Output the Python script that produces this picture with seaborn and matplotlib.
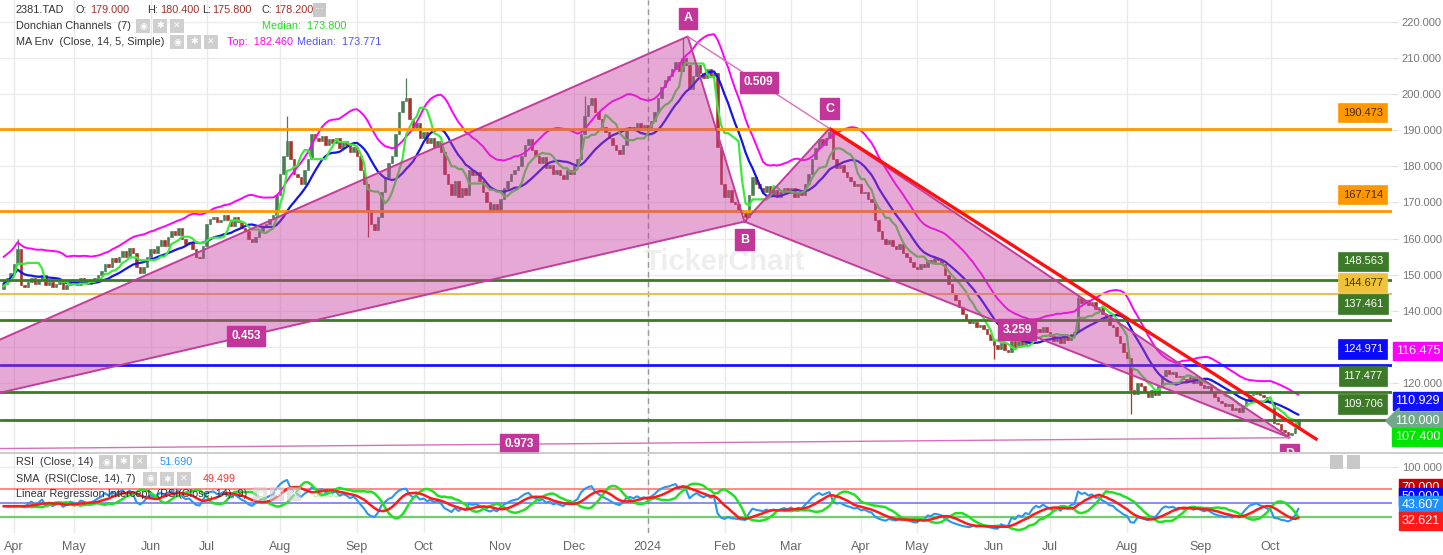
"""
Recreation of a TickerChart screen: 2381.TAD candles with harmonic pattern,
support / resistance levels, MA envelope, Donchian median and an RSI pane.
"""

import numpy as np
import pandas as pd
import matplotlib.pyplot as plt
from matplotlib.patches import Rectangle
from matplotlib.lines import Line2D
import seaborn as sns

# ---------------------------------------------------------------- data
# daily closes, read off the candles (one value per trading session)
close_2023 = [
    147.5, 149, 150.5, 153, 157, 147,
    146.5, 148, 149, 147.5, 148.5, 150, 147, 148, 146.5, 147.5, 148, 146, 147, 148.5,
    148, 147, 149, 148.5, 147.5, 148, 149, 150,
    151, 153, 152, 154.5, 153.5, 155, 156.5, 155, 157.5, 156, 152, 150.5,
    152, 155, 157, 156, 158, 159.5, 158, 160.5, 162, 161, 163,
    160, 158.5, 159, 157, 155, 154.5, 158,
    164, 165.5, 166, 164.5, 165, 166.5, 165, 163.5, 166, 164.5, 163, 162,
    160, 159, 160.5, 162, 163.5, 164, 165.5, 166.5,
    172, 178, 183, 187, 182, 178, 177, 175, 179, 182,
    189, 188, 187, 188.5, 186,
    187.5, 186.5, 188, 185, 187, 186, 184, 185.5, 183,
    179, 175, 168, 164, 162.5, 166, 173, 177, 181,
    183, 189, 195, 198, 199, 193, 190, 192,
    188, 189.5, 186.5, 188, 185.5, 187, 184,
    178, 175, 172, 176, 171.5, 174, 172,
    179, 177.5, 178.5, 176,
    173, 170, 168, 169.5, 167.5, 171,
    174, 176, 178, 179, 180,
    183, 186, 187.5, 184.5, 183,
    181, 182.5, 179.5, 180.5, 178, 179, 177.5,
    176.5, 179, 178, 180, 182,
    189, 194, 197, 199,
    195, 193, 191, 189.5, 188, 186,
    184.5, 183.5, 186, 190,
    191, 190, 192, 190.5, 191.5,
]
close_2024 = [
    190, 192.5,
    195, 199, 202, 204,
    205, 207, 209, 206.5, 210, 208,
    201.5, 205, 208, 206, 204.5, 207, 205, 206,
    185.5, 175, 171.5, 173.5, 170,
    169.5, 168, 167, 166,
    172, 177, 175, 174,
    173, 174.5, 172, 173.5, 171.5, 173, 174,
    172.5, 174, 171.5, 173, 172, 175,
    178, 182, 185, 187.5, 186, 188, 189.5,
    182, 179.5, 180.5, 178.5, 177,
    176, 174.5, 175, 172.5, 173, 171, 170,
    165, 162, 160, 158.5,
    159.5, 158, 157, 158.5, 156, 155,
    153.5, 152, 151.5, 153, 152,
    154, 153.5, 154.5, 154, 153,
    150, 147.5, 145, 143, 141,
    139, 137.5, 136.5, 137, 135.5, 136, 135,
    133.5, 132, 130.5, 129.5,
    131, 129, 128.5, 131.5, 130,
    131.5, 130.5, 132, 131, 133.5,
    135, 134, 135.5, 134,
    133, 131.5, 132.5, 131, 133, 132,
    133.5, 134, 143.5,
    142, 143, 141.5, 142.5, 140.5, 141,
    139, 138, 136, 135.5, 133,
    131, 128.5, 127,
    118, 117, 120,
    119, 117.5, 116, 118, 116.5, 119,
    122, 123.5, 122.5, 123, 121.5,
    122, 121, 120.5, 121.5, 120, 121,
    119.5, 118.5, 119, 117.5,
    116, 115, 114.5, 113.5, 114, 112.5, 113, 112,
    113.5, 115, 116.5, 117,
    117.5, 116.5, 116, 115, 114.5,
    109, 108.5, 107, 106.5, 105.5, 106, 107.4, 110,
]
first_open = 146.0
# long wicks that stick out of the bodies (session index -> price)
wick_high = {4: 160, 81: 194, 115: 204.5, 166: 199.5, 194: 215.5, 236: 190.5, 307: 145}
wick_low = {104: 160.5, 212: 164.7, 283: 126.5, 322: 111.5, 367: 104.8}

month_pos = [3, 20, 42, 58, 79, 101, 120, 142, 163, 184, 206, 225, 245, 261,
             283, 299, 321, 342, 362]
month_lbl = ["Apr", "May", "Jun", "Jul", "Aug", "Sep", "Oct", "Nov", "Dec",
             "2024", "Feb", "Mar", "Apr", "May", "Jun", "Jul", "Aug", "Sep", "Oct"]
year_start = 184

price_ticks = [110, 120, 130, 140, 150, 160, 170, 180, 190, 200, 210, 220]
hidden_ticks = [110, 130]   # covered by the value markers in the original

levels = [190.473, 167.714, 148.563, 144.677, 137.461, 124.971, 117.477, 109.706]
level_kind = ["orange", "orange", "green", "amber", "green", "blue", "green", "green"]

# harmonic XABCD points (session index, price)
pat_names = ["X", "A", "B", "C", "D"]
pat_idx = [-73, 195.5, 211.7, 236, 367.5]
pat_price = [101.2, 216.0, 164.7, 190.5, 104.8]
ratio_pairs = [("X", "B"), ("A", "C"), ("B", "D"), ("X", "D")]
ratio_text = ["0.453", "0.509", "3.259", "0.973"]

trend_idx = [236, 375.4]
trend_price = [190.5, 104.2]

# ---------------------------------------------------------------- prep
closes = pd.Series(close_2023 + close_2024, dtype=float)
idx = np.arange(len(closes))
opens = closes.shift(1).fillna(first_open)
highs = np.maximum(opens, closes)
lows = np.minimum(opens, closes)
for k, v in wick_high.items():
    highs[k] = v
for k, v in wick_low.items():
    lows[k] = v

sma14 = closes.rolling(14, min_periods=1).mean()
env_top = sma14 * 1.05
don_mid = (highs.rolling(7, min_periods=1).max() + lows.rolling(7, min_periods=1).min()) / 2

delta = closes.diff().fillna(0)
gain = delta.clip(lower=0).ewm(alpha=1 / 14, adjust=False).mean()
loss = (-delta.clip(upper=0)).ewm(alpha=1 / 14, adjust=False).mean()
rsi = (100 - 100 / (1 + gain / loss.replace(0, np.nan))).bfill()
rsi_sma = rsi.rolling(7, min_periods=1).mean()
rsi_lri = rsi.rolling(9, min_periods=2).apply(
    lambda w: np.polyfit(np.arange(len(w)), w, 1)[1], raw=True)

# ---------------------------------------------------------------- figure
sns.set_style("white")
plt.rcParams['font.family'] = ['Liberation Sans', 'DejaVu Sans']

W, H = 1443, 555
fig = plt.figure(figsize=(W / 100, H / 100), dpi=100)


def fx(x):
    return x / W


def fy(y):
    return 1 - y / H


ax = fig.add_axes([0, fy(452), fx(1392), fy(0) - fy(452)])
ax_r = fig.add_axes([0, fy(533), fx(1392), fy(454) - fy(533)], sharex=ax)

x_lo, x_hi = -1, 1392 / 3.5 - 1
ax.set_xlim(x_lo, x_hi)
ax.set_ylim(110 - 33 / 3.6, 220 + 22 / 3.6)
ax_r.set_ylim(7, 119)

for a in (ax, ax_r):
    for s in a.spines.values():
        s.set_visible(False)
    a.set_xticks(month_pos)
    a.grid(True, axis="x", color="#e9e9e9", linewidth=1)
    a.axvline(year_start, color="#999999", linestyle=(0, (4, 3)), linewidth=1, zorder=1)

ax.tick_params(axis="x", length=0, labelbottom=False)
ax.set_yticks(price_ticks)
ax.set_yticklabels(["" if p in hidden_ticks else f"{p:.3f}" for p in price_ticks])
ax.yaxis.tick_right()
ax.tick_params(axis="y", length=4, color="#dddddd", labelsize=8,
               labelcolor="#777777", pad=3)
ax.grid(True, axis="y", color="#ececec", linewidth=1)

# watermark
ax.text(0.52, 0.42, "TickerChart", transform=ax.transAxes, fontsize=21,
        fontweight="bold", color="#eeeeee", ha="center", va="center", zorder=0.5)

# candles
up = closes >= opens
col = np.where(up, "#4a7d55", "#a8352c")
ax.vlines(idx, lows, highs, colors=col, linewidth=0.9, zorder=2)
body_h = np.maximum((closes - opens).abs(), 0.35)
ax.bar(idx, body_h, bottom=np.minimum(opens, closes), width=0.72,
       color=col, edgecolor=col, linewidth=0.4, zorder=2.5)

# indicator lines
sns.lineplot(x=idx, y=env_top.values, ax=ax, color="#ff00ff", linewidth=1.4,
             legend=False, zorder=3)
sns.lineplot(x=idx, y=sma14.values, ax=ax, color="#1515e6", linewidth=1.6,
             legend=False, zorder=3)
sns.lineplot(x=idx, y=don_mid.values, ax=ax, color="#3ee83e", linewidth=1.6,
             legend=False, zorder=3)

# horizontal levels
level_style = {
    "orange": dict(line="#ff9800", lw=2.0, box="#ff9800", txt="#4a2a00"),
    "green": dict(line="#3c7a28", lw=2.0, box="#3c7a28", txt="white"),
    "amber": dict(line="#f4bd45", lw=1.5, box="#efc23a", txt="#3a3000"),
    "blue": dict(line="#1414ff", lw=2.0, box="#0a0aff", txt="white"),
}
label_lift = {148.563: 5.1, 144.677: 3.1}
for lv, kind in zip(levels, level_kind):
    st = level_style[kind]
    ax.axhline(lv, color=st["line"], linewidth=st["lw"], zorder=3.5)
    ax.text(0.979, lv + label_lift.get(lv, 4.4), f"{lv:.3f}",
            transform=ax.get_yaxis_transform(), ha="center", va="center",
            fontsize=8, color=st["txt"], zorder=8,
            bbox=dict(boxstyle="square,pad=0.42", fc=st["box"], ec=st["box"], lw=0.5))

# harmonic pattern
pts = dict(zip(pat_names, zip(pat_idx, pat_price)))
pink_fill = "#c83ca0"
pink_edge = "#c43c9c"
for tri in (("X", "A", "B"), ("B", "C", "D")):
    xs = [pts[n][0] for n in tri]
    ys = [pts[n][1] for n in tri]
    ax.fill(xs, ys, color=pink_fill, alpha=0.44, lw=0, zorder=5)
    ax.plot(xs + xs[:1], ys + ys[:1], color=pink_edge, lw=1.4, zorder=5.5)
for a_, b_ in (("A", "C"), ("X", "D")):
    ax.plot([pts[a_][0], pts[b_][0]], [pts[a_][1], pts[b_][1]],
            color="#d870b8", lw=1.0, zorder=5.5)

box_kw = dict(boxstyle="square,pad=0.35", fc="#c2369a", ec="#c2369a")
for (a_, b_), t in zip(ratio_pairs, ratio_text):
    mx = (pts[a_][0] + pts[b_][0]) / 2
    my = (pts[a_][1] + pts[b_][1]) / 2
    ax.text(mx, my, t, ha="center", va="center", fontsize=8.5, color="white",
            fontweight="bold", zorder=7, bbox=box_kw)
letter_lift = {"A": 5.0, "B": -5.0, "C": 5.5, "D": -4.6}
for n in ("A", "B", "C", "D"):
    ax.text(pts[n][0], pts[n][1] + letter_lift[n], n, ha="center", va="center",
            fontsize=9, color="white", fontweight="bold", zorder=7,
            bbox=dict(boxstyle="square,pad=0.38", fc="#c2369a", ec="#c2369a"),
            clip_on=True)

# red trend line
ax.plot(trend_idx, trend_price, color="#ff1010", lw=2.4, zorder=6,
        solid_capstyle="butt")

# ---------------------------------------------------------------- RSI pane
ax_r.set_yticks([100])
ax_r.set_yticklabels(["100.000"])
ax_r.yaxis.tick_right()
ax_r.tick_params(axis="y", length=4, color="#dddddd", labelsize=8,
                 labelcolor="#777777", pad=3)
ax_r.grid(True, axis="y", color="#ececec", linewidth=1)
ax_r.set_xticklabels(month_lbl)
ax_r.tick_params(axis="x", length=0, labelsize=9, labelcolor="#666666", pad=6)

ax_r.axhline(70, color="#ff6a6a", lw=1.1, zorder=2)
ax_r.axhline(50, color="#6a6aff", lw=1.1, zorder=2)
ax_r.axhline(30, color="#6fcf6f", lw=1.6, zorder=2)
sns.lineplot(x=idx, y=rsi.values, ax=ax_r, color="#2b95f0", lw=1.5, legend=False, zorder=3)
sns.lineplot(x=idx, y=rsi_sma.values, ax=ax_r, color="#ff1a1a", lw=1.8, legend=False, zorder=3.2)
sns.lineplot(x=idx, y=rsi_lri.values, ax=ax_r, color="#22e022", lw=1.8, legend=False, zorder=3.1)
for a in (ax, ax_r):
    a.set_xlabel("")
    a.set_ylabel("")

fig.add_artist(Line2D([0, 1], [fy(453), fy(453)], color="#c4c4c4", lw=1.2))

# ---------------------------------------------------------------- header texts
HFS = 7.8


def ftext(x, y, s, color="#333333", **kw):
    fig.text(fx(x), fy(y), s, color=color, fontsize=HFS, va="center", ha="left", **kw)


def icons(x0, y, faded=False):
    for k, g in enumerate(["◉", "✱", "✕"]):
        fig.add_artist(Rectangle((fx(x0 + 17 * k), fy(y + 7)), fx(14), fy(0) - fy(14),
                                 fc="#cfcfcf", ec="none", alpha=0.6 if faded else 1.0))
        fig.text(fx(x0 + 17 * k + 7), fy(y), g, color="white", fontsize=6.5,
                 ha="center", va="center", family="DejaVu Sans")


ftext(16, 10, "2381.TAD")
ftext(75, 10, "O:")
ftext(90, 10, "179.000", color="#a0302c")
ftext(147, 10, "H:")
ftext(160, 10, "180.400", color="#a0302c")
ftext(202, 10, "L:")
ftext(212, 10, "175.800", color="#a0302c")
ftext(262, 10, "C:")
ftext(274, 10, "178.200", color="#a0302c")
fig.add_artist(Rectangle((fx(313), fy(17)), fx(13), fy(0) - fy(14), fc="#c8c8c8", ec="none"))
fig.text(fx(319.5), fy(9), "···", color="white", fontsize=7, ha="center", va="center")

ftext(16, 26, "Donchian Channels  (7)")
icons(136, 26)
ftext(262, 26, "Median:  173.800", color="#22dd22")

ftext(16, 42, "MA Env  (Close, 14, 5, Simple)")
icons(170, 42)
ftext(227, 42, "Top:  182.460", color="#ff00ff")
ftext(297, 42, "Median:  173.771", color="#5050ff")

ftext(16, 462, "RSI  (Close, 14)")
icons(99, 462)
ftext(160, 462, "51.690", color="#2b95f0")
ftext(16, 479, "SMA  (RSI(Close, 14), 7)")
icons(143, 479)
ftext(203, 479, "49.499", color="#ff3030")
ftext(16, 494, "Linear Regression Intercept  (RSI(Close, 14), 9)")
icons(253, 494, faded=True)
ftext(313, 494, "53.55", color="#22e022", alpha=0.5)

for bx in (1330, 1347):
    fig.add_artist(Rectangle((fx(bx), fy(469)), fx(13), fy(0) - fy(14), fc="#c8c8c8", ec="none"))

# ---------------------------------------------------------------- right markers
markers = [
    ("116.475", 351, "#ff00ff", "square"),
    ("110.929", 401, "#1010ff", "square"),
    ("110.000", 421, "#74a88c", "larrow"),
    ("107.400", 437, "#00e400", "square"),
    ("70.000", 488, "#c40000", "square"),
    ("50.000", 497, "#0000ff", "square"),
    ("43.607", 505, "#1e90ff", "square"),
    ("32.621", 521, "#ff1a1a", "square"),
]
for t, y, c, style in markers:
    fig.text(fx(1440), fy(y), t, color="white", fontsize=9, ha="right", va="center",
             bbox=dict(boxstyle=f"{style},pad=0.22", fc=c, ec=c))

fig.savefig("out.png", dpi=100)
